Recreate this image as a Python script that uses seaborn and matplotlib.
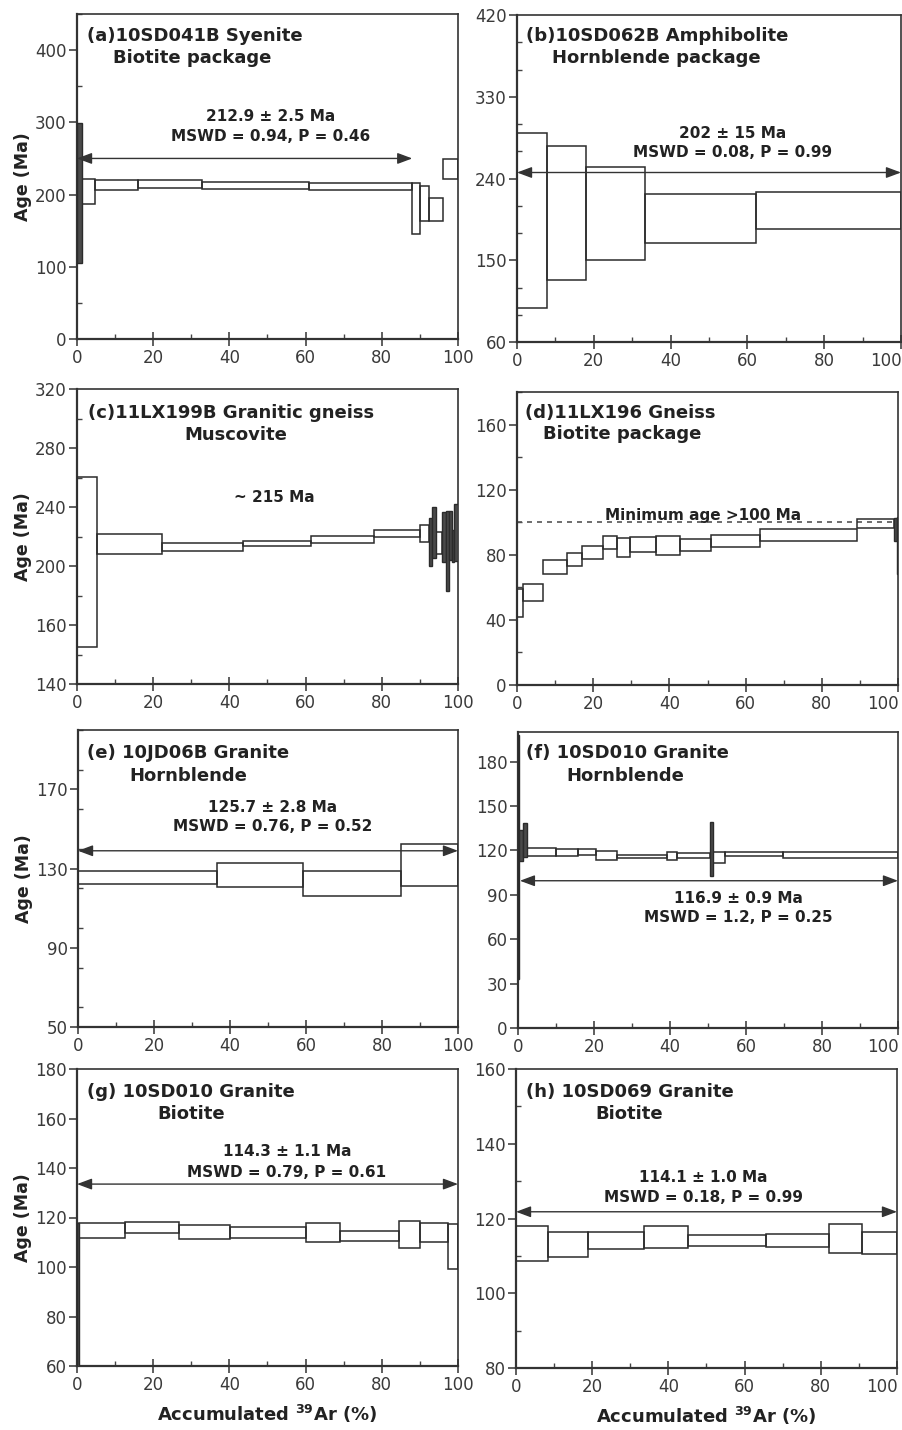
import numpy as np
import matplotlib
matplotlib.use("Agg")
import matplotlib.pyplot as plt
from matplotlib.ticker import MultipleLocator, FixedLocator, FixedFormatter, FuncFormatter
from matplotlib.transforms import ScaledTranslation, blended_transform_factory
import seaborn as sns

# ---- 40Ar/39Ar age spectra: step edges (cumulative 39Ar, %) and age bounds (Ma) ----
a_edges = [0, 1.3, 4.6, 16.0, 32.9, 61.0, 87.8, 89.9, 92.3, 96.0, 100]
a_lo = [104.8, 186.9, 205.8, 208.5, 207.1, 207.0, 146.0, 163.0, 163.0, 221.0]
a_hi = [298.5, 221.5, 219.6, 220.5, 217.8, 215.9, 216.0, 212.0, 194.7, 249.0]

b_edges = [0, 7.7, 17.9, 33.3, 62.3, 100]
b_lo = [97.4, 127.8, 150.5, 168.5, 184.3]
b_hi = [289.8, 276.3, 252.4, 223.0, 225.0]

c_edges = [0, 5.3, 22.4, 43.7, 61.4, 77.9, 90.0, 92.4, 93.3, 94.1, 95.7, 96.8, 97.7, 98.5, 99.0, 100]
c_lo = [144.9, 207.8, 210.3, 213.6, 215.9, 219.7, 216.3, 199.8, 205.3, 208.0, 202.6, 183.2, 204.2, 202.6, 203.5]
c_hi = [260.3, 221.5, 215.9, 217.0, 220.4, 224.2, 227.6, 232.3, 239.8, 222.9, 236.4, 237.3, 237.3, 224.3, 241.8]

d_edges = [0, 1.5, 6.7, 13.0, 17.0, 22.7, 26.3, 29.7, 36.6, 42.8, 51.0, 63.8, 89.2, 99.0, 99.8, 100]
d_lo = [41.8, 51.6, 67.9, 72.8, 77.5, 83.6, 78.5, 81.5, 80.1, 82.6, 84.6, 88.7, 96.4, 88.7, 67.9]
d_hi = [59.1, 62.2, 76.8, 80.9, 85.6, 91.3, 90.3, 90.7, 91.3, 89.7, 92.3, 95.8, 101.9, 102.9, 103.0]

e_edges = [0, 36.7, 59.2, 85.1, 100]
e_lo = [122.0, 120.5, 116.4, 121.1]
e_hi = [128.9, 132.9, 128.9, 142.2]

f_edges = [0, 0.3, 1.4, 2.3, 9.9, 15.9, 20.5, 26.0, 39.2, 41.8, 50.5, 51.2, 54.5, 69.8, 100]
f_lo = [33.0, 113.0, 115.7, 116.0, 115.9, 117.0, 113.6, 114.8, 113.6, 115.2, 102.4, 111.4, 115.9, 114.8]
f_hi = [198.0, 134.0, 138.5, 121.5, 120.8, 120.8, 119.3, 117.0, 118.6, 118.1, 139.5, 118.6, 118.6, 118.8]

g_edges = [0, 0.4, 12.5, 26.8, 40.2, 60.2, 69.1, 84.6, 89.9, 97.4, 100]
g_lo = [55.0, 111.6, 113.7, 111.4, 111.6, 110.3, 110.6, 107.6, 110.0, 99.1]
g_hi = [117.7, 117.7, 118.0, 116.8, 116.1, 117.7, 114.7, 118.4, 117.7, 117.4]

h_edges = [0, 8.4, 18.9, 33.6, 45.2, 65.6, 82.2, 90.7, 100]
h_lo = [108.5, 109.7, 111.8, 112.1, 112.7, 112.5, 110.7, 110.5]
h_hi = [118.1, 116.3, 116.3, 118.1, 115.5, 115.9, 118.4, 116.3]

# ---- panel labels ----
sample_titles = ["(a)10SD041B Syenite", "(b)10SD062B Amphibolite", "(c)11LX199B Granitic gneiss",
                 "(d)11LX196 Gneiss", "(e) 10JD06B Granite", "(f) 10SD010 Granite",
                 "(g) 10SD010 Granite", "(h) 10SD069 Granite"]
mineral_titles = ["Biotite package", "Hornblende package", "Muscovite", "Biotite package",
                  "Hornblende", "Hornblende", "Biotite", "Biotite"]
age_texts = ["212.9 ± 2.5 Ma", "202 ± 15 Ma", "~ 215 Ma", "Minimum age >100 Ma",
             "125.7 ± 2.8 Ma", "116.9 ± 0.9 Ma", "114.3 ± 1.1 Ma", "114.1 ± 1.0 Ma"]
stat_texts = ["MSWD = 0.94, P = 0.46", "MSWD = 0.08, P = 0.99", "", "",
              "MSWD = 0.76, P = 0.52", "MSWD = 1.2, P = 0.25", "MSWD = 0.79, P = 0.61",
              "MSWD = 0.18, P = 0.99"]

# plateau ranges (x from, x to, arrow height in Ma); None where no plateau is defined
plateau_x0 = [0, 0, None, None, 0, 0.5, 0, 0]
plateau_x1 = [88, 100, None, None, 100, 100, 100, 100]
plateau_y = [250, 246.6, None, None, 139, 99.5, 133.5, 121.8]

# y axes
y_limits = [(0, 450), (60, 420), (120, 320), (0, 180), (50, 200), (0, 200), (60, 180), (80, 160)]
y_major = [[0, 100, 200, 300, 400], [60, 150, 240, 330, 420], [120, 160, 200, 240, 280, 320],
           [0, 40, 80, 120, 160], [50, 90, 130, 170], [0, 30, 60, 90, 120, 150, 180],
           [60, 80, 100, 120, 140, 160, 180], [80, 100, 120, 140, 160]]
c_tick_labels = ["140", "160", "200", "240", "280", "320"]
y_minor_step = [50, 30, 20, 20, 20, None, None, 10]
min_age_line = 100  # Ma, panel (d)

steps = [(a_edges, a_lo, a_hi), (b_edges, b_lo, b_hi), (c_edges, c_lo, c_hi), (d_edges, d_lo, d_hi),
         (e_edges, e_lo, e_hi), (f_edges, f_lo, f_hi), (g_edges, g_lo, g_hi), (h_edges, h_lo, h_hi)]

# ---- layout (pixel boxes of the panels: left, top, right, bottom) ----
W, H = 903, 1430
boxes = [(77, 14, 458, 339), (517, 15, 901, 342), (77, 389, 458, 684), (517, 392, 898, 685),
         (78, 730, 458, 1027), (518, 732, 898, 1028), (77, 1069, 458, 1366), (516, 1069, 897, 1368)]

# text placement in data coordinates: title line 1 (x, y), line 2 (x, y, ha), annotation centre x, line ys
title1_pos = [(2.6, 419), (2.3, 397), (2.8, 303.8), (2.1, 167.1), (2.4, 188.2), (2.2, 185.6), (2.6, 170.6), (2.5, 153.9)]
title2_pos = [(9.5, 388.5, "left"), (9.1, 372.3, "left"), (41.7, 289.1, "center"), (6.7, 153.9, "left"),
              (13.6, 176.7, "left"), (12.7, 170.3, "left"), (21.0, 161.9, "left"), (20.9, 148.0, "left")]
annot_x = [50.7, 56.2, 51.8, 48.9, 51.3, 58.0, 55.1, 49.1]
annot_y1 = [307.7, 289.8, 246.3, 104.4, 160.9, 87.3, 146.7, 131.0]
annot_y2 = [280.0, 269.0, None, None, 151.1, 74.9, 138.2, 125.6]

INK = "#222222"
EDGE = "#2b2b2b"
TICK_TXT = "#3a3a3a"

sns.set_theme(style="ticks")
plt.rcParams["font.family"] = ["DejaVu Sans"]
plt.rcParams["mathtext.fontset"] = "dejavusans"

fig = plt.figure(figsize=(W / 100, H / 100), dpi=100)


def draw_steps(ax, edges, lo, hi):
    edges = np.asarray(edges, float)
    lo = np.asarray(lo, float)
    hi = np.asarray(hi, float)
    widths = np.diff(edges)
    narrow = widths <= 1.3
    wide = ~narrow
    ax.bar(edges[:-1][wide], (hi - lo)[wide], width=widths[wide], bottom=lo[wide],
           align="edge", fill=False, edgecolor=EDGE, linewidth=1.1, zorder=3)
    if narrow.any():
        ax.bar(edges[:-1][narrow], (hi - lo)[narrow], width=widths[narrow], bottom=lo[narrow],
               align="edge", facecolor="#4a4a4a", edgecolor=EDGE, linewidth=1.0, zorder=3)


def x_label_fmt(hide_last):
    def fmt(v, pos):
        if hide_last and abs(v - 100) < 1e-9:
            return ""
        return f"{v:g}"
    return FuncFormatter(fmt)


for i, (l, t, r, b) in enumerate(boxes):
    ax = fig.add_axes([l / W, 1 - b / H, (r - l) / W, (b - t) / H])
    edges, lo, hi = steps[i]
    draw_steps(ax, edges, lo, hi)

    right_col = i % 2 == 1
    ax.set_xlim(0, 100)
    ax.set_ylim(*y_limits[i])
    ax.xaxis.set_major_locator(MultipleLocator(20))
    ax.xaxis.set_minor_locator(MultipleLocator(10))
    ax.xaxis.set_major_formatter(x_label_fmt(right_col))
    ax.yaxis.set_major_locator(FixedLocator(y_major[i]))
    if i == 2:
        ax.yaxis.set_major_formatter(FixedFormatter(c_tick_labels))
    if y_minor_step[i]:
        ax.yaxis.set_minor_locator(MultipleLocator(y_minor_step[i]))

    for sp in ax.spines.values():
        sp.set_visible(True)
        sp.set_linewidth(1.2)
        sp.set_color("#333333")
    ax.spines["left"].set_linewidth(1.6)
    ax.spines["bottom"].set_linewidth(1.6)

    ax.tick_params(axis="y", which="major", direction="out", length=6, width=1.1,
                   pad=1.5, labelsize=12, color="#333333", labelcolor=TICK_TXT)
    ax.tick_params(axis="x", which="major", direction="inout", length=10, width=1.1,
                   pad=2, labelsize=12, color="#333333", labelcolor=TICK_TXT)
    ax.tick_params(which="minor", direction="in", length=3.5, width=1.0, color="#444444")

    # the right-hand column's "100" sits against the figure edge, nudged inwards
    if right_col:
        tr = blended_transform_factory(ax.transData, ax.transAxes) + \
            ScaledTranslation(-15 / 100, -7 / 72, fig.dpi_scale_trans)
        ax.text(100, 0, "100", transform=tr, ha="center", va="top", fontsize=12,
                color=TICK_TXT, clip_on=False)

    # plateau arrow
    if plateau_y[i] is not None:
        ax.annotate("", xy=(plateau_x1[i], plateau_y[i]), xytext=(plateau_x0[i], plateau_y[i]),
                    arrowprops=dict(arrowstyle="<|-|>,head_length=0.75,head_width=0.28",
                                    color="#333333", lw=1.0, shrinkA=0, shrinkB=0,
                                    mutation_scale=12), zorder=4)

    if i == 3:
        sns.lineplot(x=[0, 100], y=[min_age_line, min_age_line], ax=ax, color="#555555",
                     linewidth=1.2, linestyle=(0, (3, 3)), zorder=2)

    # titles
    ax.text(*title1_pos[i], sample_titles[i], ha="left", va="center", fontsize=13,
            fontweight="bold", color=INK, zorder=5)
    x2, y2, ha2 = title2_pos[i]
    ax.text(x2, y2, mineral_titles[i], ha=ha2, va="center", fontsize=13,
            fontweight="bold", color=INK, zorder=5)

    # age / statistics annotation
    ax.text(annot_x[i], annot_y1[i], age_texts[i], ha="center", va="center", fontsize=11,
            fontweight="bold", color=INK, zorder=5)
    if annot_y2[i] is not None:
        ax.text(annot_x[i], annot_y2[i], stat_texts[i], ha="center", va="center", fontsize=11,
                fontweight="bold", color=INK, zorder=5)

    if i % 2 == 0:
        ax.set_ylabel("Age (Ma)", fontsize=12.5, fontweight="bold", color=INK)
        ax.yaxis.set_label_coords(-0.118, 0.5)
    if i >= 6:
        ax.set_xlabel(r"Accumulated $^{\mathbf{39}}$Ar (%)", fontsize=13, fontweight="bold", color=INK)
        ax.xaxis.set_label_coords(0.5, -0.125)

fig.savefig("out.png", dpi=100, facecolor="white")
